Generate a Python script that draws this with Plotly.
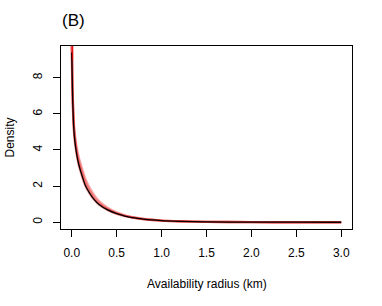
import plotly.graph_objects as go

# Availability radius grid (km)
radius_km = [0.0, 0.005, 0.01, 0.02, 0.03, 0.05, 0.075, 0.1, 0.15, 0.2, 0.25, 0.3,
             0.4, 0.5, 0.6, 0.7, 0.8, 1.0, 1.2, 1.5, 2.0, 2.5, 3.0]

# Point-estimate density (black)
density_mean = [9.4, 8.0, 6.8, 5.4, 4.7, 3.9, 3.25, 2.8, 2.05, 1.6, 1.25, 1.0,
                0.68, 0.47, 0.33, 0.24, 0.17, 0.09, 0.05, 0.02, 0.005, 0.001, 0.0]

# Posterior draws (red)
density_draw_1 = [10.5, 8.4, 7.2, 5.8, 5.1, 4.3, 3.65, 3.2, 2.42, 1.9, 1.5, 1.2,
                  0.8, 0.54, 0.37, 0.26, 0.18, 0.09, 0.05, 0.02, 0.005, 0.001, 0.0]
density_draw_2 = [10.0, 8.2, 7.0, 5.6, 4.9, 4.12, 3.48, 3.03, 2.27, 1.77, 1.39, 1.1,
                  0.74, 0.5, 0.35, 0.25, 0.175, 0.09, 0.05, 0.02, 0.005, 0.001, 0.0]
density_draw_3 = [9.8, 8.0, 6.8, 5.45, 4.75, 3.95, 3.3, 2.86, 2.12, 1.65, 1.29, 1.03,
                  0.7, 0.48, 0.335, 0.24, 0.17, 0.09, 0.05, 0.02, 0.005, 0.001, 0.0]
density_draw_4 = [10.8, 8.1, 6.8, 5.4, 4.7, 3.88, 3.22, 2.76, 2.02, 1.57, 1.23, 0.98,
                  0.67, 0.465, 0.325, 0.235, 0.168, 0.09, 0.05, 0.02, 0.005, 0.001, 0.0]

x_ticks = [0.0, 0.5, 1.0, 1.5, 2.0, 2.5, 3.0]
x_tick_labels = ["0.0", "0.5", "1.0", "1.5", "2.0", "2.5", "3.0"]
y_ticks = [0, 2, 4, 6, 8]
y_tick_labels = ["0", "2", "4", "6", "8"]

FONT = "Liberation Sans, Arial, Helvetica, sans-serif"

fig = go.Figure()
for draw in [density_draw_1, density_draw_2, density_draw_3, density_draw_4]:
    fig.add_trace(go.Scatter(x=radius_km, y=draw, mode="lines",
                             line=dict(color="rgba(230,0,0,0.3)", width=2.4, shape="spline", smoothing=0.6),
                             showlegend=False, hoverinfo="skip"))
fig.add_trace(go.Scatter(x=radius_km, y=density_mean, mode="lines",
                         line=dict(color="black", width=1.3, shape="spline", smoothing=0.6),
                         showlegend=False))
fig.add_trace(go.Scatter(x=[0.01, 0.01], y=[9.0, 10.5], mode="lines",
                         line=dict(color="rgba(230,0,0,0.9)", width=1),
                         showlegend=False, hoverinfo="skip"))

fig.update_layout(
    template="none",
    width=382, height=306,
    margin=dict(l=61, r=30, t=46, b=77, autoexpand=False),
    paper_bgcolor="white", plot_bgcolor="white",
    font=dict(family=FONT, size=12, color="black"),
    xaxis=dict(range=[-0.12, 3.12], tickvals=x_ticks, ticktext=x_tick_labels,
               showgrid=False, zeroline=False, showline=True, mirror=True,
               linecolor="black", linewidth=1, ticks="outside", ticklen=7,
               tickcolor="black", ticklabelstandoff=6, automargin=False),
    yaxis=dict(range=[-0.375, 9.755], tickvals=y_ticks, ticktext=y_tick_labels,
               showgrid=False, zeroline=False, showline=True, mirror=True,
               linecolor="black", linewidth=1, ticks="outside", ticklen=7,
               tickcolor="black", tickangle=-90, ticklabelstandoff=6, automargin=False),
    annotations=[
        dict(text="Availability radius (km)", xref="paper", yref="paper", x=0.5, y=0,
             xanchor="center", yanchor="middle", yshift=-55, showarrow=False,
             font=dict(size=12)),
        dict(text="Density", xref="paper", yref="paper", x=0, y=0.5,
             xanchor="center", yanchor="middle", xshift=-52, textangle=-90,
             showarrow=False, font=dict(size=12)),
        dict(text="(B)", xref="paper", yref="paper", x=0, y=1,
             xanchor="center", yanchor="middle", xshift=12.5, yshift=26,
             showarrow=False, font=dict(size=17)),
    ],
)

fig.write_html("out.html", config={"displayModeBar": False},
               post_script="document.body.style.margin='0';document.body.style.overflow='hidden';")
